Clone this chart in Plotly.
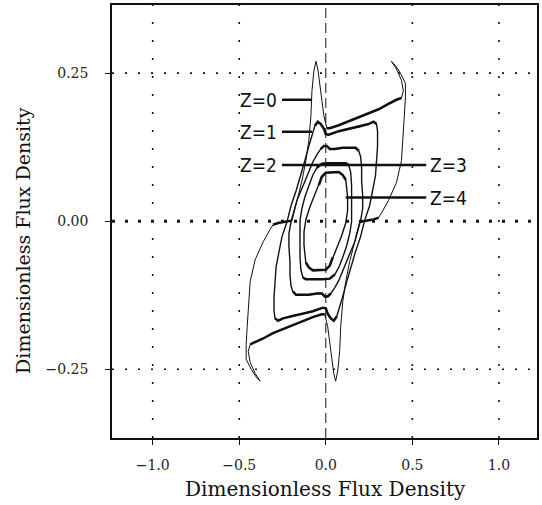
import plotly.graph_objects as go

# ---------------- data ----------------
X_TICKS = [-1.0, -0.5, 0.0, 0.5, 1.0]
X_TICK_LABELS = ["\u22121.0", "\u22120.5", "0.0", "0.5", "1.0"]
Y_TICKS = [-0.25, 0.0, 0.25]
Y_TICK_LABELS = ["\u22120.25", "0.00", "0.25"]
X_RANGE = [-1.235, 1.22]
Y_RANGE = [-0.366, 0.365]
X_TITLE = "Dimensionless Flux Density"
Y_TITLE = "Dimensionless Flux Density"

# Z = 0 loop (outermost)
Z0_UP_X = [-0.195, -0.167, -0.138, -0.115, -0.098, -0.086, -0.080, -0.069, -0.057, -0.046,
           -0.034, -0.023, -0.011, 0.006, 0.023, 0.075, 0.132, 0.190, 0.247, 0.305,
           0.362, 0.408, 0.437, 0.448, 0.437, 0.408, 0.379, 0.402, 0.431, 0.460,
           0.460, 0.454, 0.448, 0.437, 0.408, 0.362, 0.322, 0.305, 0.276, 0.195]
Z0_UP_Y = [0.001, 0.035, 0.068, 0.102, 0.136, 0.178, 0.220, 0.253, 0.270, 0.257,
           0.228, 0.203, 0.178, 0.157, 0.157, 0.162, 0.169, 0.176, 0.183, 0.189,
           0.198, 0.205, 0.208, 0.220, 0.238, 0.257, 0.270, 0.263, 0.250, 0.233,
           0.208, 0.178, 0.144, 0.102, 0.065, 0.035, 0.014, 0.006, 0.003, -0.001]
Z0_LO_X = [0.195, 0.167, 0.138, 0.115, 0.098, 0.086, 0.080, 0.069, 0.057, 0.046,
           0.034, 0.023, 0.011, -0.006, -0.023, -0.075, -0.132, -0.190, -0.247, -0.305,
           -0.362, -0.408, -0.437, -0.448, -0.437, -0.408, -0.379, -0.402, -0.431, -0.460,
           -0.460, -0.454, -0.448, -0.437, -0.408, -0.362, -0.322, -0.305, -0.276, -0.195]
Z0_LO_Y = [-0.001, -0.035, -0.068, -0.102, -0.136, -0.178, -0.220, -0.253, -0.270, -0.257,
           -0.228, -0.203, -0.178, -0.157, -0.157, -0.162, -0.169, -0.176, -0.183, -0.189,
           -0.198, -0.205, -0.208, -0.220, -0.238, -0.257, -0.270, -0.263, -0.250, -0.233,
           -0.208, -0.178, -0.144, -0.102, -0.065, -0.035, -0.014, -0.006, -0.003, 0.001]

# Z = 1 loop
Z1_UP_X = [-0.224, -0.201, -0.172, -0.144, -0.121, -0.098, -0.080, -0.063, -0.046, -0.029,
           -0.011, 0.000, 0.017, 0.075, 0.132, 0.190, 0.247, 0.276, 0.293, 0.299,
           0.299, 0.293, 0.287, 0.270, 0.253, 0.224]
Z1_UP_Y = [-0.001, 0.026, 0.051, 0.077, 0.102, 0.127, 0.147, 0.161, 0.168, 0.164,
           0.156, 0.147, 0.146, 0.152, 0.156, 0.159, 0.164, 0.168, 0.164, 0.152,
           0.127, 0.102, 0.077, 0.051, 0.026, 0.001]
Z1_LO_X = [0.224, 0.201, 0.172, 0.144, 0.121, 0.098, 0.080, 0.063, 0.046, 0.029,
           0.011, 0.000, -0.017, -0.075, -0.132, -0.190, -0.247, -0.276, -0.293, -0.299,
           -0.299, -0.293, -0.287, -0.270, -0.253, -0.224]
Z1_LO_Y = [0.001, -0.026, -0.051, -0.077, -0.102, -0.127, -0.147, -0.161, -0.168, -0.164,
           -0.156, -0.147, -0.146, -0.152, -0.156, -0.159, -0.164, -0.168, -0.164, -0.152,
           -0.127, -0.102, -0.077, -0.051, -0.026, -0.001]

# Z = 2 loop
Z2_UP_X = [-0.201, -0.184, -0.167, -0.144, -0.121, -0.098, -0.075, -0.052, -0.029, -0.011,
           0.006, 0.023, 0.052, 0.098, 0.144, 0.172, 0.190, 0.201, 0.207, 0.207,
           0.213, 0.213, 0.201]
Z2_UP_Y = [-0.001, 0.018, 0.035, 0.051, 0.068, 0.085, 0.100, 0.112, 0.122, 0.127,
           0.127, 0.122, 0.122, 0.124, 0.124, 0.124, 0.119, 0.109, 0.090, 0.068,
           0.043, 0.021, 0.001]
Z2_LO_X = [0.201, 0.184, 0.167, 0.144, 0.121, 0.098, 0.075, 0.052, 0.029, 0.011,
           -0.006, -0.023, -0.052, -0.098, -0.144, -0.172, -0.190, -0.201, -0.207, -0.207,
           -0.213, -0.213, -0.201]
Z2_LO_Y = [0.001, -0.018, -0.035, -0.051, -0.068, -0.085, -0.100, -0.112, -0.122, -0.127,
           -0.127, -0.122, -0.122, -0.124, -0.124, -0.124, -0.119, -0.109, -0.090, -0.068,
           -0.043, -0.021, -0.001]

# Z = 3 loop
Z3_UP_X = [-0.149, -0.138, -0.121, -0.098, -0.075, -0.052, -0.023, 0.017, 0.075, 0.115,
           0.132, 0.144, 0.149, 0.149, 0.149, 0.149]
Z3_UP_Y = [0.001, 0.021, 0.041, 0.061, 0.078, 0.090, 0.097, 0.098, 0.098, 0.098,
           0.095, 0.082, 0.060, 0.035, 0.014, -0.001]
Z3_LO_X = [0.149, 0.138, 0.121, 0.098, 0.075, 0.052, 0.023, -0.017, -0.075, -0.115,
           -0.132, -0.144, -0.149, -0.149, -0.149, -0.149]
Z3_LO_Y = [-0.001, -0.021, -0.041, -0.061, -0.078, -0.090, -0.097, -0.098, -0.098, -0.098,
           -0.095, -0.082, -0.060, -0.035, -0.014, 0.001]

# Z = 4 loop (innermost)
Z4_UP_X = [-0.126, -0.115, -0.092, -0.063, -0.040, -0.023, 0.000, 0.040, 0.075, 0.098,
           0.115, 0.121, 0.126, 0.126]
Z4_UP_Y = [-0.018, 0.003, 0.024, 0.045, 0.061, 0.075, 0.082, 0.083, 0.083, 0.078,
           0.070, 0.055, 0.040, 0.018]
Z4_LO_X = [0.126, 0.115, 0.092, 0.063, 0.040, 0.023, 0.000, -0.040, -0.075, -0.098,
           -0.115, -0.121, -0.126, -0.126]
Z4_LO_Y = [0.018, -0.003, -0.024, -0.045, -0.061, -0.075, -0.082, -0.083, -0.083, -0.078,
           -0.070, -0.055, -0.040, -0.018]

# curve labels and leader lines
LABELS = ["Z=0", "Z=1", "Z=2", "Z=3", "Z=4"]
LABEL_Y = [0.205, 0.151, 0.095, 0.095, 0.040]
LEADER_X0 = [-0.253, -0.253, -0.253, 0.000, 0.115]
LEADER_X1 = [-0.080, -0.080, 0.000, 0.580, 0.580]

# ---------------- style ----------------
INK = "#111111"
SERIF = "DejaVu Serif, Liberation Serif, serif"
LABEL_FONT = "Liberation Sans Narrow, DejaVu Sans Condensed, DejaVu Sans Mono, monospace"

loops = [
    (Z0_UP_X, Z0_UP_Y, Z0_LO_X, Z0_LO_Y, 1.0, [(13, 23), (37, 40)]),
    (Z1_UP_X, Z1_UP_Y, Z1_LO_X, Z1_LO_Y, 1.4, [(7, 19)]),
    (Z2_UP_X, Z2_UP_Y, Z2_LO_X, Z2_LO_Y, 1.4, [(8, 17)]),
    (Z3_UP_X, Z3_UP_Y, Z3_LO_X, Z3_LO_Y, 1.4, [(5, 11)]),
    (Z4_UP_X, Z4_UP_Y, Z4_LO_X, Z4_LO_Y, 1.4, [(4, 11)]),
]

fig = go.Figure()

for ux, uy, lx, ly, w, thick in loops:
    fig.add_trace(go.Scatter(x=ux + lx + ux[:1], y=uy + ly + uy[:1], mode="lines",
                             line=dict(color=INK, width=w), hoverinfo="skip"))
    for a, b in thick:
        for hx, hy in ((ux, uy), (lx, ly)):
            fig.add_trace(go.Scatter(x=hx[a:b], y=hy[a:b], mode="lines",
                                     line=dict(color=INK, width=2.5), hoverinfo="skip"))

# leader lines
for i, lab in enumerate(LABELS):
    fig.add_trace(go.Scatter(x=[LEADER_X0[i], LEADER_X1[i]], y=[LABEL_Y[i], LABEL_Y[i]],
                             mode="lines", line=dict(color=INK, width=2.5), hoverinfo="skip"))

annotations = []
for i, lab in enumerate(LABELS):
    left = LEADER_X0[i] < -0.1
    annotations.append(dict(
        x=LEADER_X0[i] - 0.015 if left else LEADER_X1[i] + 0.012,
        y=LABEL_Y[i], xref="x", yref="y", text=lab, showarrow=False,
        xanchor="right" if left else "left", yanchor="middle",
        font=dict(family=LABEL_FONT, size=19, color=INK)))

# axis titles
annotations.append(dict(x=0.5035, y=-0.117, xref="paper", yref="paper", text=X_TITLE,
                        showarrow=False, xanchor="center", yanchor="middle",
                        font=dict(family=SERIF, size=20, color=INK)))
annotations.append(dict(x=-0.211, y=0.456, xref="paper", yref="paper", text=Y_TITLE,
                        showarrow=False, textangle=-90, xanchor="center", yanchor="middle",
                        font=dict(family=SERIF, size=19, color=INK)))

# grid lines (dotted) and zero lines
shapes = []
for v in X_TICKS:
    if v == 0:
        shapes.append(dict(type="line", xref="x", yref="paper", x0=v, x1=v, y0=0, y1=1,
                           line=dict(color=INK, width=1, dash="10px,5px"), layer="below"))
    else:
        shapes.append(dict(type="line", xref="x", yref="paper", x0=v, x1=v, y0=0, y1=1,
                           line=dict(color=INK, width=1.6, dash="2px,16px"), layer="below"))
for v in Y_TICKS:
    if v == 0:
        shapes.append(dict(type="line", xref="paper", yref="y", x0=0, x1=1, y0=v, y1=v,
                           line=dict(color=INK, width=3, dash="3px,10px"), layer="below"))
    else:
        shapes.append(dict(type="line", xref="paper", yref="y", x0=0, x1=1, y0=v, y1=v,
                           line=dict(color=INK, width=1.6, dash="2px,11px"), layer="below"))

axis_common = dict(showgrid=False, zeroline=False, showline=True, linecolor=INK,
                   linewidth=1.5, mirror=True, ticks="outside", tickcolor=INK,
                   tickwidth=1, ticklen=5,
                   tickfont=dict(family=SERIF, size=14, color="#222222"))

fig.update_layout(
    width=542, height=505,
    margin=dict(l=112, r=3, t=4, b=67),
    paper_bgcolor="white", plot_bgcolor="white",
    showlegend=False,
    xaxis=dict(range=X_RANGE, tickmode="array", tickvals=X_TICKS, ticktext=X_TICK_LABELS,
               ticklabelstandoff=8, **axis_common),
    yaxis=dict(range=Y_RANGE, tickmode="array", tickvals=Y_TICKS, ticktext=Y_TICK_LABELS,
               ticklabelstandoff=14, **axis_common),
    annotations=annotations,
    shapes=shapes,
)

fig.write_html("out.html")
